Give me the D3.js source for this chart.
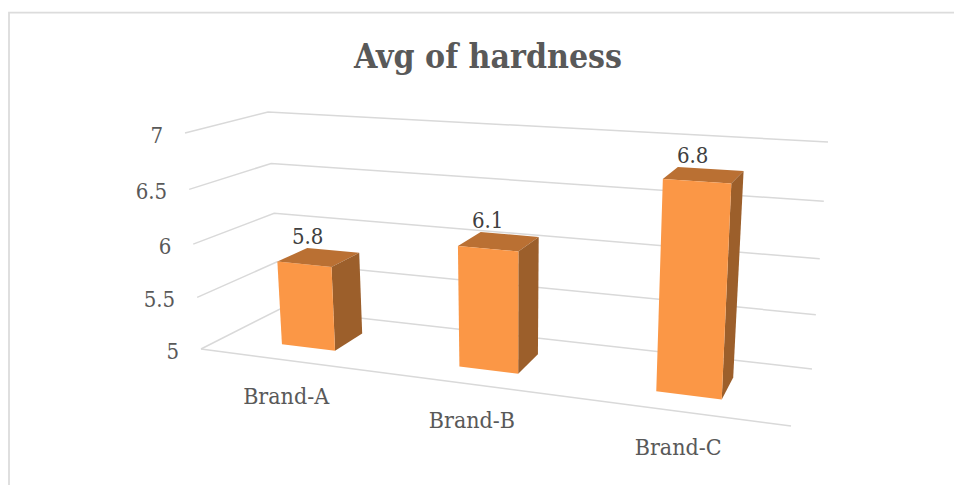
<!DOCTYPE html>
<html><head><meta charset="utf-8">
<script src="https://cdn.jsdelivr.net/npm/d3@7"></script>
<style>html,body{margin:0;background:#fff}svg{display:block}text{font-family:"DejaVu Serif Condensed","DejaVu Serif",serif}</style>
</head><body><svg id="c" width="954" height="485"></svg>
<script>
const chartTitle = "Avg of hardness";
const categories = ["Brand-A", "Brand-B", "Brand-C"];
const values = [5.8, 6.1, 6.8];
const valueLabels = ["5.8", "6.1", "6.8"];
const tickValues = [5, 5.5, 6, 6.5, 7];
const tickLabels = ["5", "5.5", "6", "6.5", "7"];

const svg = d3.select("#c");

// Eight corners of the chart's 3-D box as seen on screen: [floor|top][front|back][left|right]
const box = {
  ffl:[201,349], ffr:[791,426], fbl:[280,309], fbr:[812,369],
  tfl:[185,133], tfr:[805,172], tbl:[268,112], tbr:[828,142]
};
const lerp = (a,b,t) => [a[0]+(b[0]-a[0])*t, a[1]+(b[1]-a[1])*t];
const warpX = u => u/(1+0.17*(1-u));
const warpY = t => t/(1+0.06*(1-t));

const xScale = d3.scaleBand().domain(categories).range([0,1]).paddingInner(0.69).paddingOuter(0.345);
const yScale = d3.scaleLinear().domain([5,7]).range([0,1]);
const zScale = d3.scaleLinear().domain([0,1]).range([0.3,0.7]);

function project(u, value, z){
  const x = warpX(u), t = warpY(yScale(value));
  const floor = lerp(lerp(box.ffl,box.ffr,x), lerp(box.fbl,box.fbr,x), z);
  const top   = lerp(lerp(box.tfl,box.tfr,x), lerp(box.tbl,box.tbr,x), z);
  return lerp(floor, top, t);
}

// frame
svg.append("path").attr("d","M9,485V12.7H954").attr("fill","none").attr("stroke","#dcdcdc").attr("stroke-width",1.8);

// title
svg.append("text").attr("x",488).attr("y",68).attr("text-anchor","middle")
  .attr("font-size",34).attr("font-weight","bold").attr("fill","#595959").attr("textLength",268).attr("lengthAdjust","spacingAndGlyphs").text(chartTitle);

// gridlines: left wall then back wall
const line = d3.line();
svg.append("g").selectAll("path").data(tickValues).join("path")
  .attr("d", v => line([project(0,v,0), project(0,v,1), project(1,v,1)]))
  .attr("fill","none").attr("stroke","#d9d9d9").attr("stroke-width",1.5);
// floor front edge
svg.append("path").attr("d", line([project(0,5,0), project(1,5,0)]))
  .attr("fill","none").attr("stroke","#d9d9d9").attr("stroke-width",1.5);

// value labels on axis
svg.append("g").selectAll("text").data(tickValues).join("text")
  .attr("x", v => project(0,v,0)[0]-22)
  .attr("y", v => project(0,v,0)[1]+10)
  .attr("text-anchor","end").attr("font-size",22).attr("fill","#595959")
  .text((v,i) => tickLabels[i]);

// bars
const bars = svg.append("g").selectAll("g").data(categories).join("g");
const face = (d,i,corners) => line(corners.map(c => project(
  xScale(d)+(c[0]?xScale.bandwidth():0), c[1]?values[i]:5, c[2]?zScale(1):zScale(0)))) + "Z";
bars.append("path").attr("fill","#ba7033").attr("d",(d,i)=>face(d,i,[[0,1,0],[1,1,0],[1,1,1],[0,1,1]]));
bars.append("path").attr("fill","#9c5f2b").attr("d",(d,i)=>face(d,i,[[1,0,0],[1,1,0],[1,1,1],[1,0,1]]));
bars.append("path").attr("fill","#fb9746").attr("d",(d,i)=>face(d,i,[[0,0,0],[1,0,0],[1,1,0],[0,1,0]]));

// data labels
svg.append("g").selectAll("text").data(categories).join("text")
  .attr("x",(d,i)=>project(xScale(d)+xScale.bandwidth()/2,values[i],zScale(0.5))[0]-11)
  .attr("y",(d,i)=>project(xScale(d)+xScale.bandwidth()/2,values[i],zScale(1))[1]-6)
  .attr("text-anchor","middle").attr("font-size",22).attr("fill","#404040")
  .text((d,i)=>valueLabels[i]);

// category labels
svg.append("g").selectAll("text").data(categories).join("text")
  .attr("x",d=>project(xScale(d)+xScale.bandwidth()/2,5,0)[0]-1)
  .attr("y",d=>project(xScale(d)+xScale.bandwidth()/2,5,0)[1]+44)
  .attr("text-anchor","middle").attr("font-size",23).attr("fill","#595959")
  .text(d=>d);
</script></body></html>
